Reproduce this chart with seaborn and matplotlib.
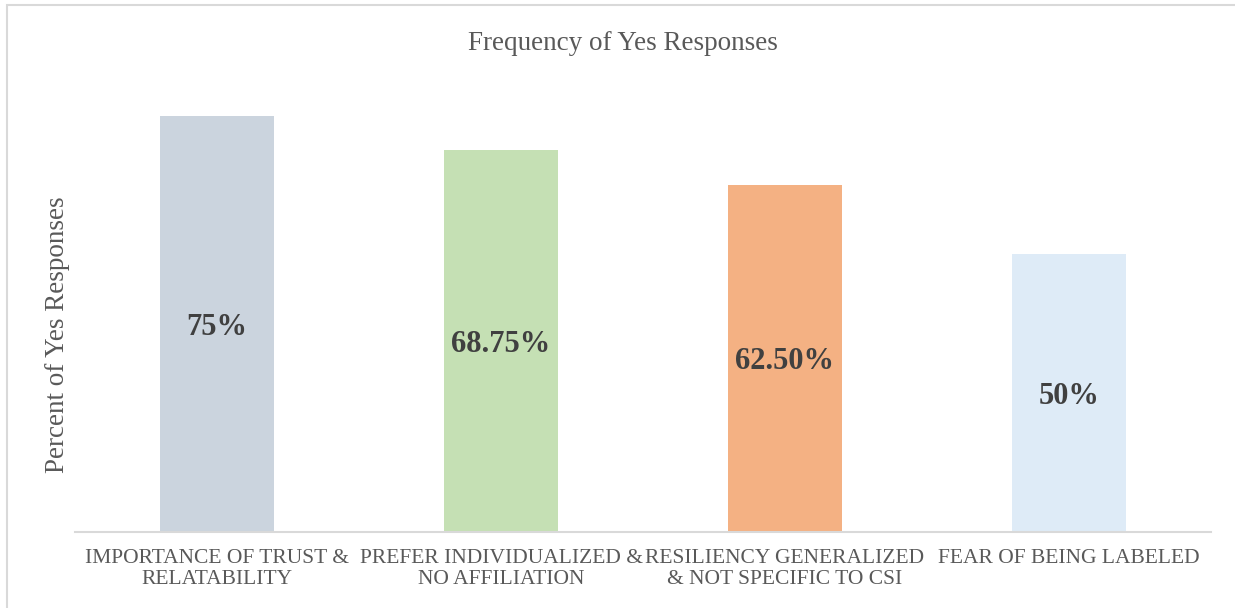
import seaborn as sns
import pandas as pd
import matplotlib.pyplot as plt
from matplotlib.patches import Rectangle

categories = ["IMPORTANCE OF TRUST &\nRELATABILITY",
              "PREFER INDIVIDUALIZED &\nNO AFFILIATION",
              "RESILIENCY GENERALIZED\n& NOT SPECIFIC TO CSI",
              "FEAR OF BEING LABELED"]
values = [75, 68.75, 62.5, 50]
labels = ["75%", "68.75%", "62.50%", "50%"]
colors = ["#cbd4de", "#c5e0b4", "#f4b183", "#deebf7"]

sns.set_theme(style="white")
plt.rcParams['font.family'] = ['Liberation Serif', 'DejaVu Serif']

df = pd.DataFrame({"category": categories, "value": values})

fig = plt.figure(figsize=(12.35, 6.08), dpi=100)
ax = fig.add_axes([75 / 1235, 1 - 532 / 608, 1136 / 1235, 444 / 608])

sns.barplot(x="category", y="value", data=df, hue="category", palette=colors,
            width=0.4, legend=False, ax=ax, saturation=1, linewidth=0)

for i, v in enumerate(values):
    ax.text(i, v / 2 - 0.6, labels[i], ha='center', va='center', fontsize=22,
            fontweight='bold', color='#404040')

ax.set_ylim(0, 80)
ax.set_xlim(-0.5, 3.5)
ax.set_yticks([])
ax.set_xlabel('')
ax.set_ylabel('Percent of Yes Responses', fontsize=19.5, color='#595959')
ax.yaxis.set_label_coords(-0.004, 0.445)
ax.tick_params(axis='x', length=0, labelsize=15.5, labelcolor='#595959', pad=12)
for t in ax.get_xticklabels():
    t.set_linespacing(1.2)
for s in ['top', 'right', 'left']:
    ax.spines[s].set_visible(False)
ax.spines['bottom'].set_color('#d9d9d9')
ax.spines['bottom'].set_linewidth(1.5)

fig.text(623 / 1235, 1 - 43 / 608, 'Frequency of Yes Responses', ha='center',
         va='center', fontsize=19.5, color='#595959')

# chart frame (top and left edges visible)
fig.patches.append(Rectangle((7 / 1235, -0.1), 1.2, 1 - 5 / 608 + 0.1,
                             transform=fig.transFigure, fill=False,
                             edgecolor='#d9d9d9', linewidth=1.5, clip_on=False))

plt.savefig('out.png', dpi=100)
